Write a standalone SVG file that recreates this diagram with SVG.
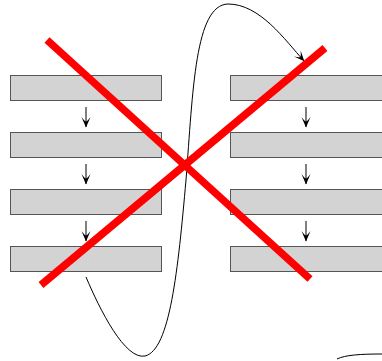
<svg xmlns="http://www.w3.org/2000/svg" width="382" height="361" viewBox="0 0 382 361">
<style>
.box{fill:#d3d3d3;stroke:#555;stroke-width:1}
.conn{fill:none;stroke:#000;stroke-width:1}
.cross{stroke:#ff0000;stroke-width:7.5;stroke-linecap:butt}
</style>
<defs>
<marker id="ah" viewBox="-12 -6 14 12" markerWidth="14" markerHeight="12" refX="0" refY="0" orient="auto" markerUnits="userSpaceOnUse">
<path d="M0.5,0 L-10,-4.5 Q-5.5,-1 -5.5,0 Q-5.5,1 -10,4.5 Z" fill="#000"/>
</marker>
</defs>
<g id="L1"><rect class="box" x="10.5" y="75.5" width="151" height="25"/></g>
<g id="L2"><rect class="box" x="10.5" y="132.5" width="151" height="25"/></g>
<g id="L3"><rect class="box" x="10.5" y="189.5" width="151" height="25"/></g>
<g id="L4"><rect class="box" x="10.5" y="246.5" width="151" height="25"/></g>
<g id="R1"><rect class="box" x="230.5" y="75.5" width="152" height="25"/></g>
<g id="R2"><rect class="box" x="230.5" y="132.5" width="152" height="25"/></g>
<g id="R3"><rect class="box" x="230.5" y="189.5" width="152" height="25"/></g>
<g id="R4"><rect class="box" x="230.5" y="246.5" width="152" height="25"/></g>
<g id="connectors">
<line class="conn" x1="86" y1="107" x2="86" y2="127" marker-end="url(#ah)"/>
<line class="conn" x1="86" y1="164" x2="86" y2="184" marker-end="url(#ah)"/>
<line class="conn" x1="86" y1="221" x2="86" y2="241" marker-end="url(#ah)"/>
<line class="conn" x1="306" y1="107" x2="306" y2="127" marker-end="url(#ah)"/>
<line class="conn" x1="306" y1="164" x2="306" y2="184" marker-end="url(#ah)"/>
<line class="conn" x1="306" y1="221" x2="306" y2="241" marker-end="url(#ah)"/>
<path class="conn" d="M86,277 C100,310 125,360 145,356 C170,350 178,270 186,180 C193,90 195,5 228,4 C260,4 285,40 304,61" marker-end="url(#ah)"/>
<path class="conn" d="M337,359 C345,355 360,354 382,354"/>
</g>
<g id="cross">
<line class="cross" x1="47" y1="40" x2="310" y2="279"/>
<line class="cross" x1="325" y1="48" x2="41" y2="285"/>
</g>
</svg>
